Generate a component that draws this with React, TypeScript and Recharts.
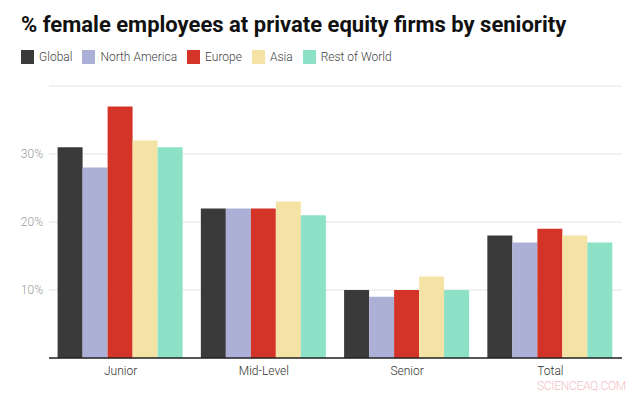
import { BarChart, Bar, XAxis, YAxis, CartesianGrid } from 'recharts'

const categories = ['Junior', 'Mid-Level', 'Senior', 'Total']
const global = [31, 22, 10, 18]
const northAmerica = [28, 22, 9, 17]
const europe = [37, 22, 10, 19]
const asia = [32, 23, 12, 18]
const restOfWorld = [31, 21, 10, 17]
const yTicks = [10, 20, 30]

const SERIES = [
  { key: 'global', name: 'Global', color: '#3a3a3a', values: global },
  { key: 'northAmerica', name: 'North America', color: '#adb0d6', values: northAmerica },
  { key: 'europe', name: 'Europe', color: '#d43428', values: europe },
  { key: 'asia', name: 'Asia', color: '#f5e3a6', values: asia },
  { key: 'restOfWorld', name: 'Rest of World', color: '#8ce1c6', values: restOfWorld },
]

const data = categories.map((name, i) => {
  const row: Record<string, string | number> = { name }
  SERIES.forEach(s => { row[s.key] = s.values[i] })
  return row
})

const FONT = 'Roboto, "Noto Sans", sans-serif'

export default function App() {
  return (
    <div style={{ position: 'absolute', left: 0, top: 0, width: 636, height: 395, fontFamily: FONT, background: '#fff' }}>
      {/* title */}
      <div style={{ position: 'absolute', left: 21, top: 12, fontSize: 22, fontWeight: 700, color: '#111', whiteSpace: 'nowrap' }}>
        % female employees at private equity firms by seniority
      </div>

      {/* legend */}
      <div style={{ position: 'absolute', left: 21, top: 50, display: 'flex', alignItems: 'center', fontSize: 12, fontWeight: 300, color: '#444' }}>
        {SERIES.map(s => (
          <div key={s.key} style={{ display: 'flex', alignItems: 'center', marginRight: 10 }}>
            <span style={{ width: 13, height: 14, background: s.color, display: 'inline-block', marginRight: 5 }} />
            {s.name}
          </div>
        ))}
      </div>

      <div style={{ position: 'absolute', left: 0, top: 0 }}>
        <BarChart width={636} height={395} data={data} margin={{ top: 86, right: 14, bottom: 7, left: 0 }}
          barCategoryGap="6%" barGap={0}>
          <CartesianGrid vertical={false} stroke="#e4e4e4" />
          <YAxis domain={[0, 40]} ticks={yTicks} width={49} tickSize={4} axisLine={false} tickLine={false}
            tickFormatter={(v: number) => `${v}%`} tick={{ fontSize: 12, fill: '#9a9a9a', fontFamily: FONT, fontWeight: 300 }} />
          <XAxis dataKey="name" height={30} tickLine={false} axisLine={{ stroke: '#222', strokeWidth: 1.5 }}
            tick={{ fontSize: 12, fill: '#333', fontFamily: FONT, fontWeight: 300 }} />
          {SERIES.map(s => (
            <Bar key={s.key} dataKey={s.key} name={s.name} fill={s.color} isAnimationActive={false} />
          ))}
        </BarChart>
      </div>

      {/* watermark */}
      <div style={{ position: 'absolute', left: 537, top: 379, fontSize: 12, fontWeight: 300, color: '#f3bfc8', letterSpacing: -0.3 }}>
        SCIENCEAQ.COM
      </div>
    </div>
  )
}
